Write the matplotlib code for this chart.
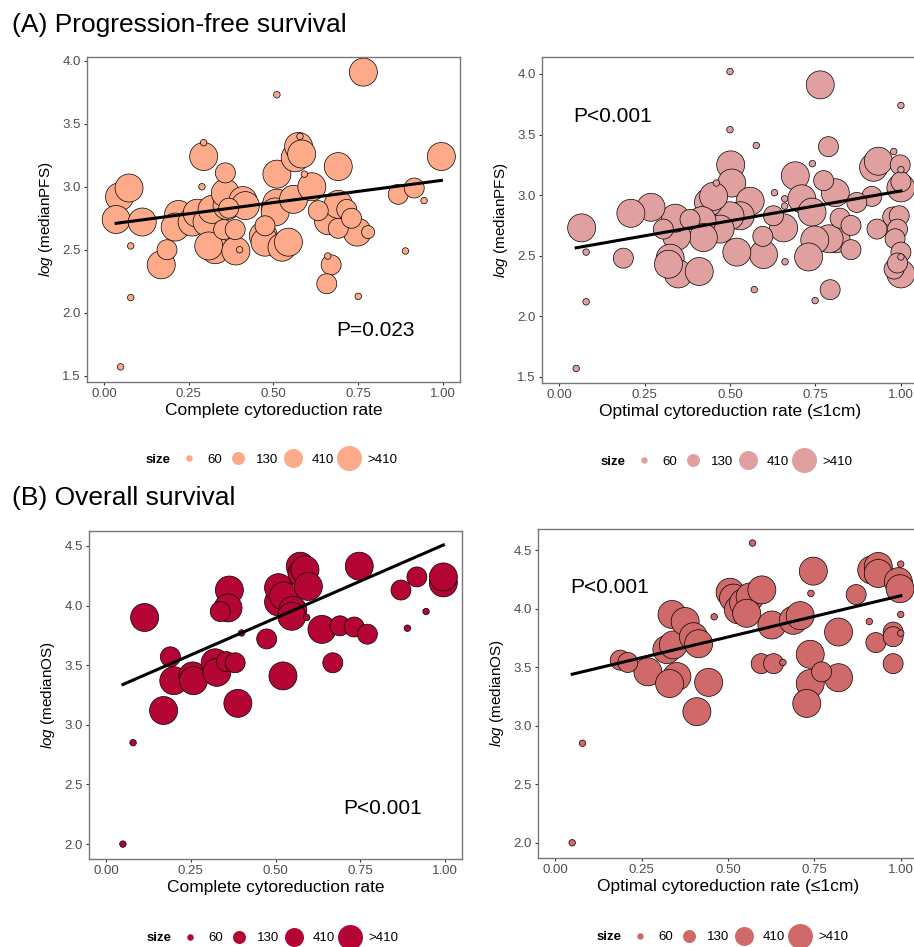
import numpy as np
import matplotlib
matplotlib.use("Agg")
import matplotlib.pyplot as plt
from matplotlib.lines import Line2D

plt.rcParams['font.family'] = ['Liberation Sans', 'DejaVu Sans']
plt.rcParams['mathtext.fontset'] = 'custom'
plt.rcParams['mathtext.rm'] = 'Liberation Sans'
plt.rcParams['mathtext.it'] = 'Liberation Sans:italic'

# size groups (legend labels)
size_labels = ["60", "130", "410", ">410"]

# (A) PFS vs complete cytoreduction rate
pfs_cr_x = [0.765, 0.51, 0.049, 0.079, 0.079, 0.289, 0.294, 0.294, 0.358, 0.046,
            0.074, 0.036, 0.113, 0.186, 0.169, 0.22, 0.21, 0.26, 0.275, 0.304,
            0.319, 0.328, 0.309, 0.353, 0.387, 0.389, 0.40, 0.363, 0.368, 0.358,
            0.41, 0.417, 0.475, 0.47, 0.475, 0.505, 0.51, 0.51, 0.505, 0.525,
            0.544, 0.559, 0.564, 0.574, 0.578, 0.583, 0.591, 0.613, 0.632, 0.662,
            0.691, 0.691, 0.691, 0.716, 0.730, 0.747, 0.779, 0.67, 0.657, 0.66,
            0.75, 0.868, 0.915, 0.944, 0.889, 0.995]
pfs_cr_y = [3.91, 3.73, 1.57, 2.12, 2.53, 3.0, 3.35, 3.24, 3.11, 2.92,
            2.99, 2.74, 2.72, 2.50, 2.38, 2.78, 2.68, 2.72, 2.79, 2.72,
            2.82, 2.50, 2.53, 2.66, 2.66, 2.49, 2.50, 2.85, 2.83, 2.95,
            2.89, 2.85, 2.69, 2.61, 2.56, 2.83, 2.87, 3.10, 2.80, 2.52,
            2.56, 2.90, 3.23, 3.32, 3.40, 3.26, 3.10, 3.0, 2.81, 2.73,
            2.67, 3.16, 2.86, 2.82, 2.75, 2.64, 2.64, 2.38, 2.23, 2.45,
            2.13, 2.94, 2.99, 2.89, 2.49, 3.24]
pfs_cr_g = [3, 0, 0, 0, 0, 0, 0, 3, 2, 3,
            3, 3, 3, 2, 3, 3, 3, 3, 3, 3,
            3, 3, 3, 2, 2, 3, 0, 3, 2, 3,
            3, 3, 2, 3, 3, 3, 3, 3, 3, 3,
            3, 3, 3, 3, 0, 3, 0, 3, 2, 3,
            2, 3, 3, 2, 2, 3, 1, 2, 2, 0,
            0, 2, 2, 0, 0, 3]
pfs_cr_fit = (2.697, 0.355)  # intercept, slope

# (A) PFS vs optimal cytoreduction rate
pfs_oc_x = [0.50, 0.764, 1.0, 0.50, 0.577, 0.788, 0.741, 0.502, 0.505, 0.46,
            0.691, 0.774, 0.979, 0.92, 0.934, 0.998, 1.0, 1.0, 0.63, 0.66,
            0.66, 0.915, 0.871, 0.808, 0.71, 0.74, 0.822, 0.854, 0.81, 0.79,
            0.854, 0.748, 0.73, 0.793, 0.749, 0.661, 0.571, 0.657, 0.596, 0.627,
            0.598, 0.52, 0.559, 0.53, 0.50, 0.471, 0.437, 0.452, 0.418, 0.422,
            0.383, 0.344, 0.34, 0.305, 0.325, 0.349, 0.32, 0.41, 0.269, 0.21,
            0.188, 0.066, 0.079, 0.079, 0.05, 0.976, 0.995, 0.93, 0.99, 0.983,
            1.0, 1.0, 0.98, 1.0, 0.99, 1.0]
pfs_oc_y = [4.02, 3.91, 3.74, 3.54, 3.41, 3.40, 3.26, 3.25, 3.10, 3.10,
            3.16, 3.12, 3.36, 3.23, 3.28, 3.25, 3.11, 3.06, 3.02, 2.97,
            2.91, 2.99, 2.94, 3.02, 2.97, 2.86, 2.81, 2.75, 2.64, 2.64,
            2.55, 2.63, 2.49, 2.22, 2.13, 2.45, 2.22, 2.73, 2.66, 2.83,
            2.51, 2.53, 2.95, 2.83, 2.83, 2.72, 2.94, 2.99, 2.79, 2.65,
            2.80, 2.66, 2.81, 2.72, 2.48, 2.35, 2.43, 2.37, 2.90, 2.85,
            2.48, 2.73, 2.53, 2.12, 1.57, 2.82, 2.83, 2.72, 2.72, 2.64,
            2.53, 2.49, 2.39, 2.35, 2.44, 3.21]
pfs_oc_g = [0, 3, 0, 0, 0, 2, 0, 3, 3, 0,
            3, 2, 0, 3, 3, 2, 2, 3, 0, 0,
            0, 2, 2, 3, 3, 3, 2, 2, 3, 3,
            2, 3, 3, 2, 0, 0, 0, 3, 2, 2,
            3, 3, 3, 3, 3, 3, 3, 3, 3, 3,
            2, 3, 3, 2, 3, 3, 3, 3, 3, 3,
            2, 3, 0, 0, 0, 2, 2, 2, 2, 2,
            2, 0, 2, 3, 2, 0]
pfs_oc_fit = (2.541, 0.494)

# (B) OS vs complete cytoreduction rate
os_cr_x = [0.05, 0.08, 0.114, 0.19, 0.17, 0.20, 0.256, 0.258, 0.322, 0.327,
           0.355, 0.381, 0.389, 0.40, 0.337, 0.364, 0.36, 0.474, 0.509, 0.509,
           0.524, 0.522, 0.551, 0.548, 0.573, 0.578, 0.587, 0.597, 0.592, 0.637,
           0.69, 0.732, 0.771, 0.669, 0.747, 0.87, 0.917, 0.889, 0.944, 0.995,
           0.995]
os_cr_y = [2.0, 2.85, 3.90, 3.57, 3.12, 3.37, 3.41, 3.37, 3.52, 3.44,
           3.53, 3.52, 3.18, 3.77, 3.95, 4.13, 3.98, 3.72, 4.03, 4.15,
           4.08, 3.41, 3.96, 3.91, 4.33, 4.27, 4.30, 4.16, 3.90, 3.80,
           3.83, 3.82, 3.76, 3.52, 4.33, 4.13, 4.24, 3.81, 3.95, 4.19,
           4.24]
os_cr_g = [0, 0, 3, 2, 3, 3, 3, 3, 3, 3,
           2, 2, 3, 0, 2, 3, 3, 2, 3, 3,
           3, 3, 3, 3, 3, 3, 3, 3, 0, 3,
           2, 2, 2, 2, 3, 2, 2, 0, 0, 3,
           3]
os_cr_fit = (3.276, 1.238)

# (B) OS vs optimal cytoreduction rate
os_oc_x = [0.049, 0.079, 0.571, 0.188, 0.21, 0.268, 0.323, 0.342, 0.338, 0.376,
           0.40, 0.415, 0.352, 0.331, 0.444, 0.41, 0.46, 0.506, 0.516, 0.53,
           0.545, 0.564, 0.598, 0.554, 0.627, 0.596, 0.632, 0.659, 0.689, 0.709,
           0.74, 0.747, 0.738, 0.771, 0.738, 0.728, 0.82, 0.82, 0.871, 0.916,
           0.935, 0.935, 0.993, 0.998, 1.0, 1.0, 0.909, 0.928, 0.978, 0.978,
           1.0, 0.978]
os_oc_y = [2.0, 2.85, 4.56, 3.56, 3.54, 3.46, 3.65, 3.69, 3.95, 3.89,
           3.76, 3.70, 3.42, 3.36, 3.37, 3.12, 3.93, 4.14, 4.09, 3.99,
           4.05, 4.10, 4.16, 3.96, 3.86, 3.53, 3.53, 3.54, 3.90, 3.94,
           4.13, 4.32, 3.61, 3.46, 3.36, 3.19, 3.80, 3.41, 4.12, 4.33,
           4.36, 4.30, 4.23, 4.17, 4.38, 3.95, 3.89, 3.71, 3.80, 3.76,
           3.79, 3.53]
os_oc_g = [0, 0, 0, 2, 2, 3, 3, 3, 3, 3,
           3, 3, 3, 3, 3, 3, 0, 3, 3, 3,
           3, 3, 3, 3, 3, 2, 2, 0, 3, 3,
           0, 3, 3, 2, 3, 3, 3, 3, 2, 3,
           3, 3, 3, 3, 0, 0, 0, 2, 2, 2,
           0, 2]
os_oc_fit = (3.405, 0.705)

# marker diameters (px) per size group
diam_px = [6.5, 13, 20, 28]
leg_px = [6.5, 13, 19, 25]

fig = plt.figure(figsize=(9.14, 9.47), dpi=100)
W, H = 914, 947


def add_ax(l, t, r, b):
    return fig.add_axes([l / W, 1 - b / H, (r - l) / W, (b - t) / H])


def panel(ax, x, y, g, fit, color, xlabel, ylabel, ylim, yticks, ptxt, ppos):
    x = np.array(x)
    y = np.array(y)
    g = np.array(g)
    order = np.argsort(-g, kind="stable")
    s = (np.array(diam_px)[g] * 0.72) ** 2
    ax.scatter(x[order], y[order], s=s[order], c=color, edgecolors="black",
               linewidths=0.5, zorder=2)
    xx = np.array([x.min(), x.max()])
    ax.plot(xx, fit[0] + fit[1] * xx, color="black", lw=2.2, zorder=3)
    ax.set_xlim(-0.05, 1.05)
    ax.set_ylim(*ylim)
    ax.set_xticks([0, 0.25, 0.5, 0.75, 1.0])
    ax.set_xticklabels(["0.00", "0.25", "0.50", "0.75", "1.00"])
    ax.set_yticks(yticks)
    ax.set_yticklabels(["%.1f" % v for v in yticks])
    ax.tick_params(labelsize=9.5, labelcolor="#4d4d4d", color="#333333",
                   length=2.5, width=0.8, pad=2)
    for sp in ax.spines.values():
        sp.set_color("#777777")
        sp.set_linewidth(1.0)
    ax.set_xlabel(xlabel, fontsize=12.5, labelpad=2)
    ax.set_ylabel(ylabel, fontsize=11, labelpad=5)
    ax.text(ppos[0], ppos[1], ptxt, fontsize=15, ha="center", va="center")


def legend(color, x_size, x_leg, y):
    fig.text(x_size / W, 1 - y / H, "size", fontsize=9.5, fontweight="bold",
             ha="left", va="center")
    handles = [Line2D([], [], marker="o", ls="", color=color,
                      markersize=d * 0.72, markeredgewidth=0) for d in leg_px]
    fig.legend(handles, size_labels, loc="center left",
               bbox_to_anchor=(x_leg / W, 1 - y / H), ncol=4, frameon=False,
               fontsize=9.5, handlelength=2.0, handletextpad=0.4,
               columnspacing=0.15, borderpad=0, borderaxespad=0)


c_pfs_cr = "#fcaa8a"
c_pfs_oc = "#e0a0a0"
c_os_cr = "#b40535"
c_os_oc = "#d06a6a"

ax1 = add_ax(87, 57, 460, 382)
panel(ax1, pfs_cr_x, pfs_cr_y, pfs_cr_g, pfs_cr_fit, c_pfs_cr,
      "Complete cytoreduction rate", r"$\mathit{log}\ $(medianPFS)",
      (1.45, 4.03), [1.5, 2.0, 2.5, 3.0, 3.5, 4.0], "P=0.023", (0.80, 1.86))

ax2 = add_ax(542, 57, 918, 383)
panel(ax2, pfs_oc_x, pfs_oc_y, pfs_oc_g, pfs_oc_fit, c_pfs_oc,
      "Optimal cytoreduction rate (\u22641cm)", r"$\mathit{log}\ $(medianPFS)",
      (1.45, 4.14), [1.5, 2.0, 2.5, 3.0, 3.5, 4.0], "P<0.001", (0.158, 3.65))

ax3 = add_ax(89, 531, 462, 859)
panel(ax3, os_cr_x, os_cr_y, os_cr_g, os_cr_fit, c_os_cr,
      "Complete cytoreduction rate", r"$\mathit{log}\ $(medianOS)",
      (1.875, 4.625), [2.0, 2.5, 3.0, 3.5, 4.0, 4.5], "P<0.001", (0.815, 2.30))

ax4 = add_ax(538, 529, 918, 858)
panel(ax4, os_oc_x, os_oc_y, os_oc_g, os_oc_fit, c_os_oc,
      "Optimal cytoreduction rate (\u22641cm)", r"$\mathit{log}\ $(medianOS)",
      (1.87, 4.68), [2.0, 2.5, 3.0, 3.5, 4.0, 4.5], "P<0.001", (0.156, 4.18))

fig.text(12 / W, 1 - 25 / H, "(A) Progression-free survival", fontsize=19,
         ha="left", va="center")
fig.text(12 / W, 1 - 498 / H, "(B) Overall survival", fontsize=19,
         ha="left", va="center")

legend(c_pfs_cr, 146, 176, 460)
legend(c_pfs_oc, 601, 631, 462)
legend(c_os_cr, 147, 177, 938)
legend(c_os_oc, 597, 627, 937)

fig.savefig("out.png", dpi=100)
